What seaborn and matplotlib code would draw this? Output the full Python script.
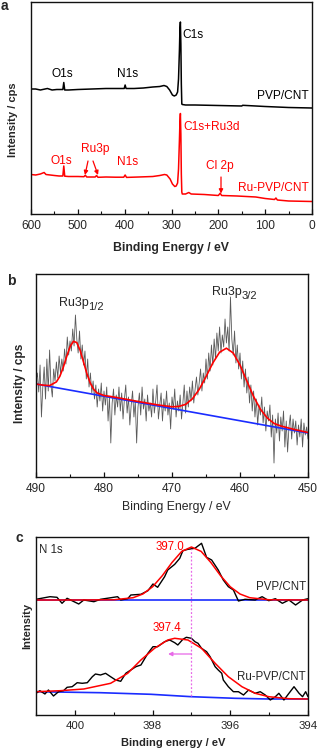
import numpy as np
import pandas as pd
import matplotlib
matplotlib.use("Agg")
import matplotlib.pyplot as plt
import seaborn as sns

sns.set_style("white")
plt.rcParams['font.family'] = ['Liberation Sans', 'DejaVu Sans']
plt.rcParams['mathtext.fontset'] = 'custom'
plt.rcParams['mathtext.rm'] = 'Liberation Sans'

W, H = 319, 751

# ---------------- Panel a : survey spectra ----------------
a_pvp_E = [600, 590, 580, 565, 555, 545, 535, 532, 530, 528, 520, 500, 470, 440, 410, 401,
           399, 397, 380, 360, 340, 325, 316, 310, 304, 298, 294, 290, 287, 285, 283, 282,
           281, 280, 279, 278, 277, 270, 250, 200, 150, 148, 100, 75, 50, 0]
a_pvp_I = [125, 125, 124, 125.5, 124, 124.5, 124.5, 124.5, 131.5, 124, 124, 124.5, 125, 125.5,
           125.5, 125.5, 129, 125.5, 125.5, 126, 127, 127.5, 128.5, 127.5, 124, 119, 118, 119,
           122, 135, 165, 185, 192, 170, 130, 110, 109.5, 109, 109, 108.5, 108, 108.7, 107.5,
           107, 106.5, 106]
a_ru_E = [600, 590, 580, 572, 568, 550, 540, 532, 530, 528, 520, 500, 487, 484, 481, 470, 463,
          460, 457, 440, 420, 402, 399, 396, 370, 340, 325, 315, 310, 303, 298, 293, 290, 287,
          285, 283, 282, 281, 280, 279, 278, 277, 270, 263, 258, 230, 200, 196, 193, 160, 120,
          100, 80, 77, 74, 50, 0]
a_ru_I = [39.5, 39, 40, 41.5, 39.5, 38.5, 38, 38, 48, 37.8, 37.5, 37.5, 37.3, 38.8, 37, 37, 37,
          38.5, 36.7, 37, 36.8, 36.8, 39, 36.6, 37, 37.5, 38.5, 39.5, 39, 35, 30, 27.5, 28, 31,
          45, 75, 92, 100.5, 80, 40, 22, 20, 20, 21.5, 20, 19.5, 18.5, 20.8, 18.5, 18, 17, 15.5,
          14.5, 16, 14, 13, 12.5]
a_xticks = [600, 500, 400, 300, 200, 100, 0]

# ---------------- Panel b : Ru3p region ----------------
b_raw_I = [96, 104, 85, 112, 60, 90, 110, 78, 118, 86,
           127, 92, 80, 108, 96, 115, 99, 121, 104, 118,
           106, 128, 113, 140, 122, 136, 126, 148, 131, 162,
           138, 124, 146, 118, 132, 112, 126, 98, 118, 90,
           104, 84, 96, 78, 92, 70, 88, 76, 94, 66,
           86, 72, 90, 56, 80, 34, 74, 88, 62, 82,
           70, 90, 66, 84, 58, 78, 92, 64, 80, 52,
           72, 86, 60, 76, 34, 70, 84, 62, 90, 68,
           78, 56, 82, 66, 74, 60, 88, 64, 76, 92,
           58, 72, 84, 56, 78, 66, 86, 62, 74, 48,
           80, 68, 88, 60, 76, 66, 82, 58, 74, 92,
           64, 86, 70, 90, 76, 96, 74, 88, 100, 82,
           94, 108, 86, 104, 94, 118, 98, 124, 106, 132,
           112, 138, 118, 144, 126, 150, 124, 142, 130, 158,
           134, 150, 126, 180, 138, 122, 146, 114, 132, 108,
           124, 98, 116, 90, 108, 84, 100, 74, 92, 66,
           86, 60, 78, 52, 72, 62, 80, 54, 70, 46,
           66, 56, 72, 40, 62, 14, 58, 44, 64, 36,
           60, 46, 66, 30, 56, 25, 50, 62, 38, 58,
           44, 56, 32, 52, 40, 58, 30, 54, 42, 50,
           38]
b_fit_E = [490, 489, 488, 487, 486.5, 486, 485.5, 485, 484.5, 484, 483.5, 483, 482.5, 482,
           481.5, 481, 480, 479, 478, 476, 474, 472, 470, 469, 468, 467, 466, 465, 464, 463,
           462, 461, 460, 459, 458, 457, 456, 455, 454, 452, 450]
b_fit_I = [93, 91.9, 91.4, 95.1, 100.6, 109.4, 120.2, 130.2, 135.7, 134.4, 126.5, 114.7, 103,
           93.7, 87.5, 84, 81.5, 80.5, 79.3, 76.8, 74.3, 72.0, 70.2, 70.6, 72.6, 78.2, 87.6,
           100.3, 114, 124.8, 128.8, 124, 111.9, 96.1, 80.4, 67.8, 59.1, 53.6, 51, 47.5, 44.5]
b_base_E = [490, 450]
b_base_I = [93, 44]
b_xticks = [490, 480, 470, 460, 450]

# ---------------- Panel c : N 1s ----------------
c_pvp_E = [401.0, 400.64, 400.46, 400.33, 400.2, 399.9, 399.77, 399.51, 399.34, 398.9, 398.82,
           398.64, 398.56, 398.3, 398.12, 397.99, 397.87, 397.69, 397.61, 397.43, 397.3,
           397.22, 397.09, 396.91, 396.74, 396.61, 396.48, 396.31, 396.18, 396.05, 395.92,
           395.79, 395.62, 395.36, 395.18, 395.01, 394.84, 394.66, 394.49, 394.32, 394.14, 394.0]
c_pvp_I = [115.7, 118.3, 117.7, 111.7, 116.7, 111, 115, 113.3, 115.7, 118.3, 115, 116.3, 120,
           120.7, 124.3, 131, 127.7, 138.3, 145, 150.7, 156.7, 164.3, 165.7, 166.7, 171.7,
           157.7, 155, 145, 135, 128.3, 125, 114, 115.7, 115, 118.3, 114.3, 116.3, 111.7, 115,
           110, 115, 116.3]
c_pvp_fit_E = [401, 400, 399, 398.5, 398.25, 398, 397.75, 397.5, 397.25, 397, 396.75, 396.5,
               396.25, 396, 395.75, 395.5, 395, 394]
c_pvp_fit_I = [115, 115, 115.2, 117.3, 121, 128.2, 139.3, 152.5, 163.6, 168, 163.6, 152.5,
               139.3, 128.2, 121, 117.3, 115.2, 115]
c_pvp_base_E = [401, 394]
c_pvp_base_I = [115, 115]
c_ru_E = [401.0, 400.9, 400.77, 400.68, 400.55, 400.42, 400.29, 400.2, 400.07, 399.94, 399.81,
          399.68, 399.55, 399.47, 399.34, 399.21, 399.08, 398.95, 398.82, 398.69, 398.56,
          398.43, 398.3, 398.12, 397.99, 397.87, 397.69, 397.56, 397.43, 397.35, 397.22,
          397.13, 397.0, 396.91, 396.83, 396.74, 396.61, 396.52, 396.39, 396.31, 396.22,
          396.18, 396.05, 395.92, 395.79, 395.66, 395.53, 395.36, 395.23, 395.1, 394.97,
          394.84, 394.75, 394.62, 394.49, 394.36, 394.23, 394.14, 394.06, 394.0]
c_ru_I = [21.7, 24.3, 21, 25, 19, 23.3, 24.3, 27.7, 28.3, 32.3, 31.7, 32.3, 38.3, 41, 40, 41.7,
          38.3, 35, 33.7, 41.7, 45, 48.3, 50, 61.7, 68.3, 68.3, 73.3, 75, 72.3, 70, 75.7, 77.7,
          76.7, 73.3, 71.7, 66.7, 63.3, 58.3, 48.3, 45, 41.7, 35, 28.3, 23.3, 23.3, 20, 25,
          21.7, 23.3, 20, 15, 18.3, 21.7, 15, 21.7, 28.3, 21.7, 18.3, 23.3, 18.3]
c_ru_fit_E = [401, 400.38, 399.77, 399.08, 398.64, 398.3, 397.95, 397.61, 397.43, 397.09,
              396.74, 396.39, 396.05, 395.7, 395.36, 395.01, 394.49, 394.0]
c_ru_fit_I = [23.3, 24.3, 26, 31.7, 41.7, 55, 66.7, 75, 76.7, 75, 66.7, 51.7, 38.3, 28.3,
              21.7, 18.3, 16.3, 16]
c_ru_base_E = [401, 399.34, 398.04, 397.0, 395.88, 395.01, 394]
c_ru_base_I = [23.3, 22.3, 20.7, 18.3, 16.7, 16, 16]
c_xticks = [400, 398, 396, 394]
c_peak_pvp = 397.0
c_peak_ru = 397.4

RED = '#ff0000'
BLUE = '#1a2cff'
PINK = '#e868e8'

fig = plt.figure(figsize=(W / 100, H / 100), dpi=100)


def ax_rect(l, t, r, b):
    return [l / W, 1 - b / H, (r - l) / W, (b - t) / H]


def fx(px):
    return px / W


def fy(py):
    return 1 - py / H


def style_axes(ax, fs):
    for s in ax.spines.values():
        s.set_linewidth(1.0)
        s.set_color('#111111')
    ax.tick_params(axis='x', which='both', direction='in', bottom=True, top=False,
                   labelsize=fs, pad=4, color='#111111')
    ax.tick_params(axis='x', which='major', length=3.5, width=0.9)
    ax.tick_params(axis='x', which='minor', length=2.5, width=0.8)
    ax.tick_params(axis='y', which='both', left=False, labelleft=False)
    ax.set_xlabel('')
    ax.set_ylabel('')


def line(ax, x, y, color, lw):
    sns.lineplot(x=x, y=y, ax=ax, color=color, lw=lw, sort=False, estimator=None, legend=False)


# ---- Panel a
axa = fig.add_axes(ax_rect(31, 2, 312, 214))
line(axa, a_pvp_E, a_pvp_I, 'black', 1.1)
line(axa, a_ru_E, a_ru_I, RED, 1.1)
axa.set_xlim(600, 0)
axa.set_ylim(0, 212)
axa.set_xticks(a_xticks)
axa.set_xticks([550, 450, 350, 250, 150, 50], minor=True)
style_axes(axa, 8.6)
fsa = 8.6
axa.text(277.6, 179, 'C1s', color='black', fontsize=fsa, ha='left', va='center')
axa.text(533.8, 140, 'O1s', color='black', fontsize=fsa, ha='center', va='center')
axa.text(392.9, 140, 'N1s', color='black', fontsize=fsa, ha='center', va='center')
axa.text(6.4, 118, 'PVP/CNT', color='black', fontsize=fsa, ha='right', va='center')
axa.text(275.4, 87, 'C1s+Ru3d', color=RED, fontsize=fsa, ha='left', va='center')
axa.text(536, 53, 'O1s', color=RED, fontsize=fsa, ha='center', va='center')
axa.text(463.3, 65, 'Ru3p', color=RED, fontsize=fsa, ha='center', va='center')
axa.text(392.9, 52, 'N1s', color=RED, fontsize=fsa, ha='center', va='center')
axa.text(196.4, 48, 'Cl 2p', color=RED, fontsize=fsa, ha='center', va='center')
axa.text(6.4, 26, 'Ru-PVP/CNT', color=RED, fontsize=fsa, ha='right', va='center')
arr = dict(arrowstyle='-|>', color=RED, lw=0.9, mutation_scale=6, shrinkA=0, shrinkB=0)
axa.annotate('', xy=(484.7, 39), xytext=(478.3, 53), arrowprops=arr)
axa.annotate('', xy=(456.9, 39), xytext=(467.6, 53), arrowprops=arr)
axa.annotate('', xy=(194.3, 20.5), xytext=(194.3, 37), arrowprops=arr)

# ---- Panel b
axb = fig.add_axes(ax_rect(36, 274, 308, 477))
b_raw_E = np.linspace(490, 450, len(b_raw_I))
line(axb, b_raw_E, b_raw_I, '#5a5a5a', 0.6)
line(axb, b_base_E, b_base_I, BLUE, 1.2)
line(axb, b_fit_E, b_fit_I, RED, 1.2)
axb.set_xlim(490, 450)
axb.set_ylim(0, 203)
axb.set_xticks(b_xticks)
axb.set_xticks([485, 475, 465, 455], minor=True)
style_axes(axb, 8.6)
axb.text(486.6, 174, 'Ru3p', fontsize=9, ha='left', va='center')
axb.annotate('1/2', xy=(486.6, 174), xytext=(21, -3), textcoords='offset points',
             fontsize=8, ha='left', va='center')
axb.text(464.1, 185, 'Ru3p', fontsize=9, ha='left', va='center')
axb.annotate('3/2', xy=(464.1, 185), xytext=(21, -3), textcoords='offset points',
             fontsize=8, ha='left', va='center')

# ---- Panel c
axc = fig.add_axes(ax_rect(36, 537, 308, 715))
line(axc, c_pvp_base_E, c_pvp_base_I, BLUE, 1.2)
line(axc, c_pvp_E, c_pvp_I, 'black', 1.0)
line(axc, c_pvp_fit_E, c_pvp_fit_I, RED, 1.1)
line(axc, c_ru_base_E, c_ru_base_I, BLUE, 1.2)
line(axc, c_ru_E, c_ru_I, 'black', 1.0)
line(axc, c_ru_fit_E, c_ru_fit_I, RED, 1.1)
axc.set_xlim(401, 394)
axc.set_ylim(0, 178)
axc.set_xticks(c_xticks)
axc.set_xticks([401, 399, 397, 395], minor=True)
style_axes(axc, 8.2)
axc.plot([c_peak_pvp, c_peak_pvp], [19, 166], ls=(0, (1.5, 1.5)), color=PINK, lw=0.9)
axc.annotate('', xy=(397.6, 61), xytext=(c_peak_pvp, 61),
             arrowprops=dict(arrowstyle='-|>', color=PINK, lw=0.9, mutation_scale=6,
                             shrinkA=0, shrinkB=0))
axc.text(400.92, 165, 'N 1s', fontsize=8.3, ha='left', va='center')
axc.text(397.18, 168, f'{c_peak_pvp:.1f}', color=RED, fontsize=8.3, ha='right', va='center')
axc.text(397.62, 87, f'{c_peak_ru:.1f}', color=RED, fontsize=8.3, ha='center', va='center')
axc.text(394.05, 128, 'PVP/CNT', fontsize=8.3, ha='right', va='center')
axc.text(394.05, 38, 'Ru-PVP/CNT', fontsize=8.3, ha='right', va='center')

# ---- labels
fig.text(fx(171), fy(248), 'Binding Energy / eV', fontsize=8.8, fontweight='bold',
         ha='center', va='center')
fig.text(fx(13), fy(120), 'Intensity / cps', fontsize=8, fontweight='bold',
         ha='center', va='center', rotation=90)
fig.text(fx(176), fy(507), 'Binding Energy / eV', fontsize=8.8, ha='center', va='center')
fig.text(fx(20), fy(383), 'Intensity / cps', fontsize=8.6, fontweight='bold',
         ha='center', va='center', rotation=90)
fig.text(fx(173), fy(743), 'Binding energy / eV', fontsize=8, fontweight='bold',
         ha='center', va='center')
fig.text(fx(27), fy(626), 'Intensity', fontsize=8, fontweight='bold',
         ha='center', va='center', rotation=90)
fig.text(fx(4), fy(6), 'a', fontsize=10, fontweight='bold', ha='center', va='center')
fig.text(fx(11), fy(281), 'b', fontsize=10, fontweight='bold', ha='center', va='center')
fig.text(fx(19), fy(538), 'c', fontsize=10, fontweight='bold', ha='center', va='center')

fig.savefig('out.png', dpi=100)
